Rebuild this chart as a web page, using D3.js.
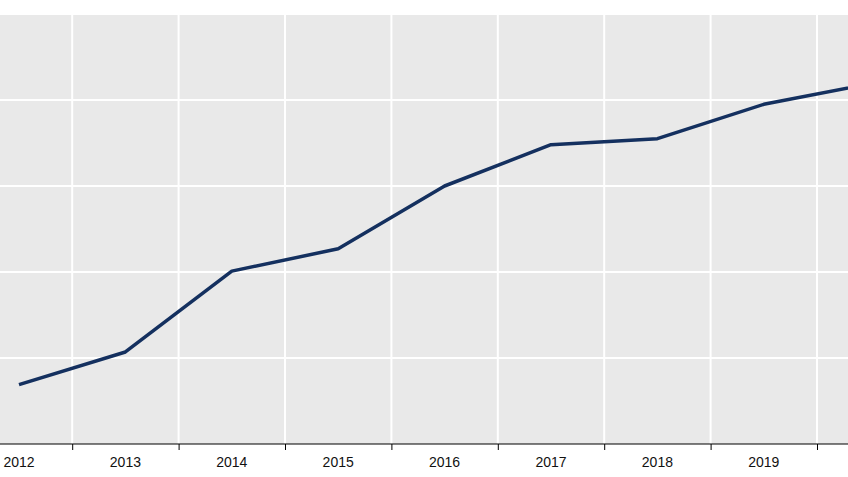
<!DOCTYPE html>
<html lang="en">
<head>
<meta charset="UTF-8">
<style>
  body { margin: 0; background: #fff; overflow: hidden; }
  svg { display: block; font-family: Arial, "Liberation Sans", sans-serif; }
</style>
</head>
<body>
<svg id="chart" width="848" height="477"></svg>
<script src="https://d3js.org/d3.v7.min.js"></script>
<script>
// data (no y labels visible, grid units)
var years = [2012, 2013, 2014, 2015, 2016, 2017, 2018, 2019, 2020];
var values = [0.69, 1.07, 2.01, 2.27, 3.0, 3.48, 3.55, 3.95, 4.19];
var yTicks = [0, 1, 2, 3, 4, 5];
var labelYears = [2012, 2013, 2014, 2015, 2016, 2017, 2018, 2019];

var svg = d3.select("#chart");
var plotTop = 14, plotBottom = 444;

// chart is cropped on both sides, so the scale runs past the window
var x = d3.scaleLinear().domain([2012, 2013]).range([19, 125.4]);
var y = d3.scaleLinear().domain([0, 5]).range([plotBottom, plotTop]);

svg.append("rect")
    .attr("x", 0).attr("y", plotTop)
    .attr("width", 848).attr("height", plotBottom - plotTop)
    .attr("fill", "#e9e9e9");

// horizontal grid
svg.append("g").selectAll("line")
    .data(yTicks.slice(1))
    .join("line")
    .attr("x1", 0).attr("x2", 848)
    .attr("y1", d => y(d)).attr("y2", d => y(d))
    .attr("stroke", "#fff").attr("stroke-width", 2);

// vertical grid between years
var bounds = d3.range(2011.5, 2020.5, 1);
svg.append("g").selectAll("line")
    .data(bounds)
    .join("line")
    .attr("x1", d => x(d)).attr("x2", d => x(d))
    .attr("y1", plotTop).attr("y2", plotBottom)
    .attr("stroke", "#fff").attr("stroke-width", 2);

// x axis
var axis = d3.axisBottom(x).tickValues(bounds).tickFormat("").tickSize(6).tickSizeOuter(0);
var ax = svg.append("g").attr("transform", "translate(0," + plotBottom + ")").call(axis);
ax.select(".domain").attr("d", "M0,0H848").attr("stroke", "#000").attr("stroke-width", 1.2);
ax.selectAll(".tick line").attr("stroke", "#000");

svg.append("g").selectAll("text")
    .data(labelYears)
    .join("text")
    .attr("x", d => x(d)).attr("y", 467)
    .attr("text-anchor", "middle")
    .attr("font-size", 14)
    .attr("fill", "#111")
    .text(d => d);

var line = d3.line().x((d, i) => x(years[i])).y(d => y(d));
svg.append("path")
    .datum(values)
    .attr("d", line)
    .attr("fill", "none")
    .attr("stroke", "#14305f")
    .attr("stroke-width", 3.5)
    .attr("stroke-linejoin", "round");
</script>
</body>
</html>
